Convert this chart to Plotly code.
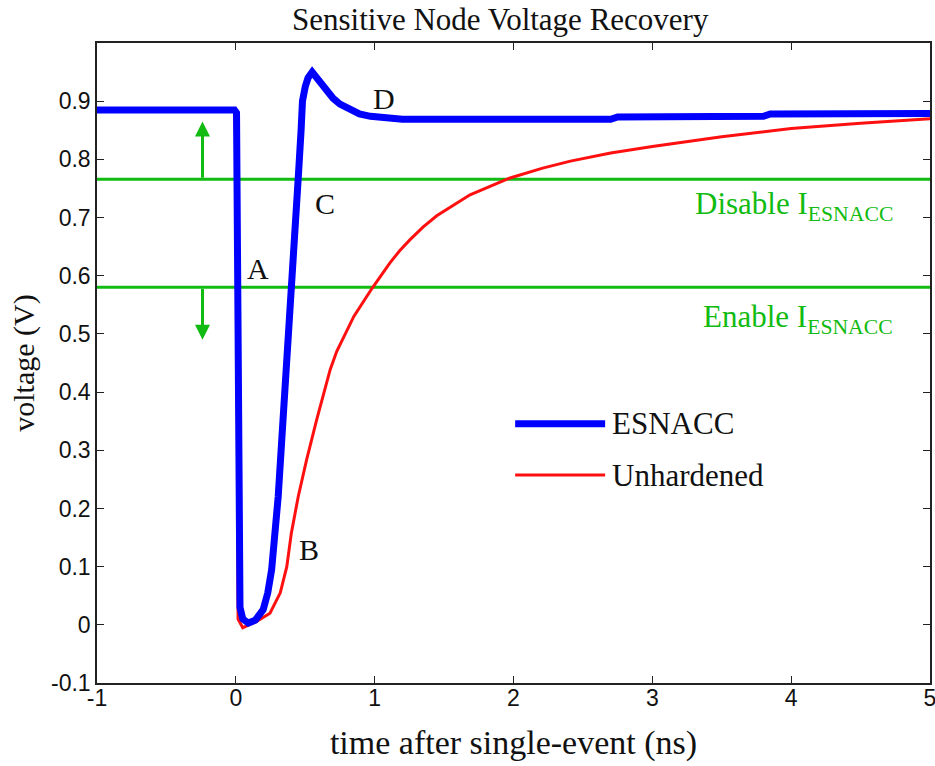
import plotly.graph_objects as go

# ESNACC (hardened) node voltage
esnacc_t = [-1.0, -0.01, 0.005, 0.01, 0.015, 0.02, 0.03, 0.05, 0.09, 0.14, 0.197, 0.23, 0.258, 0.305, 0.34,
            0.377, 0.41, 0.45, 0.47, 0.48, 0.50, 0.52, 0.55, 0.58, 0.64, 0.70, 0.75, 0.82, 0.89,
            0.97, 1.10, 1.20, 1.5, 2.0, 2.7, 2.75, 3.3, 3.8, 3.85, 4.5, 5.0]
esnacc_v = [0.885, 0.885, 0.88, 0.64, 0.29, 0.15, 0.03, 0.01, 0.003, 0.008, 0.026, 0.055, 0.095, 0.22, 0.348,
            0.478, 0.58, 0.77, 0.85, 0.90, 0.925, 0.94, 0.95, 0.94, 0.92, 0.905, 0.895, 0.885, 0.878,
            0.874, 0.872, 0.869, 0.869, 0.869, 0.869, 0.873, 0.873, 0.874, 0.878, 0.878, 0.879]

# Unhardened node voltage
unh_t = [-1.0, -0.01, 0.005, 0.016, 0.05, 0.15, 0.246, 0.32, 0.367, 0.40, 0.45, 0.51, 0.583, 0.68, 0.727,
         0.85, 0.98, 1.05, 1.11, 1.18, 1.255, 1.35, 1.447, 1.687, 1.975, 2.21, 2.41, 2.7, 3.0, 3.5, 4.0,
         4.5, 5.0]
unh_v = [0.885, 0.885, 0.80, 0.01, -0.005, 0.006, 0.02, 0.055, 0.10, 0.158, 0.221, 0.284, 0.353, 0.439, 0.47,
         0.53, 0.578, 0.602, 0.622, 0.643, 0.662, 0.684, 0.703, 0.739, 0.768, 0.785, 0.797, 0.811, 0.822,
         0.839, 0.853, 0.862, 0.870]

thresholds = [0.766, 0.58]
threshold_labels = ["Disable I<sub>ESNACC</sub>", "Enable I<sub>ESNACC</sub>"]
threshold_label_y = [0.757, 0.563]
point_labels = ["A", "B", "C", "D"]
point_x = [0.16, 0.53, 0.64, 1.07]
point_y = [0.612, 0.13, 0.725, 0.905]

x_ticks = [-1, 0, 1, 2, 3, 4, 5]
y_ticks = [-0.1, 0, 0.1, 0.2, 0.3, 0.4, 0.5, 0.6, 0.7, 0.8, 0.9]

legend_names = ["ESNACC", "Unhardened"]

GREEN = "#11bb11"
BLUE = "#0000ff"
RED = "#ff1010"
SERIF = "Liberation Serif, Times New Roman, serif"
SANS = "Liberation Sans, Arial, sans-serif"
TXT = "#111111"

fig = go.Figure()

for yv in thresholds:
    fig.add_trace(go.Scatter(x=[-1, 5], y=[yv, yv], mode="lines",
                             line=dict(color=GREEN, width=3), showlegend=False, hoverinfo="skip"))

fig.add_trace(go.Scatter(x=unh_t, y=unh_v, mode="lines", name=legend_names[1],
                         line=dict(color=RED, width=3), showlegend=False))
fig.add_trace(go.Scatter(x=esnacc_t, y=esnacc_v, mode="lines", name=legend_names[0],
                         line=dict(color=BLUE, width=7), showlegend=False))

annotations = []
# arrows
annotations.append(dict(x=-0.24, y=0.865, ax=-0.24, ay=thresholds[0], xref="x", yref="y",
                        axref="x", ayref="y", showarrow=True, arrowhead=2, arrowsize=1,
                        arrowwidth=3, arrowcolor=GREEN, text=""))
annotations.append(dict(x=-0.24, y=0.49, ax=-0.24, ay=thresholds[1], xref="x", yref="y",
                        axref="x", ayref="y", showarrow=True, arrowhead=2, arrowsize=1,
                        arrowwidth=3, arrowcolor=GREEN, text=""))
for lbl, yv in zip(threshold_labels, threshold_label_y):
    annotations.append(dict(x=4.75, y=yv, xref="x", yref="y", text=lbl, showarrow=False,
                            xanchor="right", yanchor="top",
                            font=dict(family=SERIF, size=31, color=GREEN)))
for lbl, xv, yv in zip(point_labels, point_x, point_y):
    annotations.append(dict(x=xv, y=yv, xref="x", yref="y", text=lbl, showarrow=False,
                            font=dict(family=SERIF, size=30, color=TXT)))

# legend (drawn in paper coordinates)
leg_y = [0.405, 0.325]
leg_colors = [BLUE, RED]
leg_widths = [7, 3]
shapes = []
for name, ly, c, w in zip(legend_names, leg_y, leg_colors, leg_widths):
    shapes.append(dict(type="line", xref="paper", yref="paper", x0=0.502, x1=0.61, y0=ly, y1=ly,
                       line=dict(color=c, width=w)))
    annotations.append(dict(x=0.616, y=ly, xref="paper", yref="paper", text=name, showarrow=False,
                            xanchor="left", yanchor="middle",
                            font=dict(family=SERIF, size=31, color=TXT)))

fig.update_layout(
    width=935, height=766,
    paper_bgcolor="white", plot_bgcolor="white",
    margin=dict(l=97, r=5, t=43, b=83),
    title=dict(text="Sensitive Node Voltage Recovery", x=0.535, xanchor="center", y=0.975,
               yanchor="middle", font=dict(family=SERIF, size=31, color=TXT)),
    annotations=annotations,
    shapes=shapes,
    showlegend=False,
)
fig.update_xaxes(range=[-1, 5], tickvals=x_ticks, ticktext=[str(v) for v in x_ticks],
                 ticks="inside", ticklen=7, tickcolor="#222", showline=True, linecolor="#222",
                 linewidth=1.5, mirror="ticks", showgrid=False, zeroline=False, automargin=False,
                 ticklabelstandoff=-6, ticklabeloverflow="allow",
                 tickfont=dict(family=SANS, size=23, color=TXT),
                 title=dict(text="time after single-event (ns)", font=dict(family=SERIF, size=34, color=TXT),
                            standoff=20))
fig.update_yaxes(range=[-0.1, 1.0], tickvals=y_ticks, ticktext=[f"{v:g}" for v in y_ticks],
                 ticks="inside", ticklen=7, tickcolor="#222", showline=True, linecolor="#222",
                 linewidth=1.5, mirror="ticks", showgrid=False, zeroline=False, automargin=False,
                 ticklabeloverflow="allow",
                 tickfont=dict(family=SANS, size=23, color=TXT),
                 title=dict(text="voltage (V)", font=dict(family=SERIF, size=30, color=TXT),
                            standoff=8))

# remove the browser's default 8px body margin so the figure fills the 935x766 window exactly
fig.write_html("out.html", config={"displayModeBar": False},
               post_script="document.body.style.margin='0px';")
